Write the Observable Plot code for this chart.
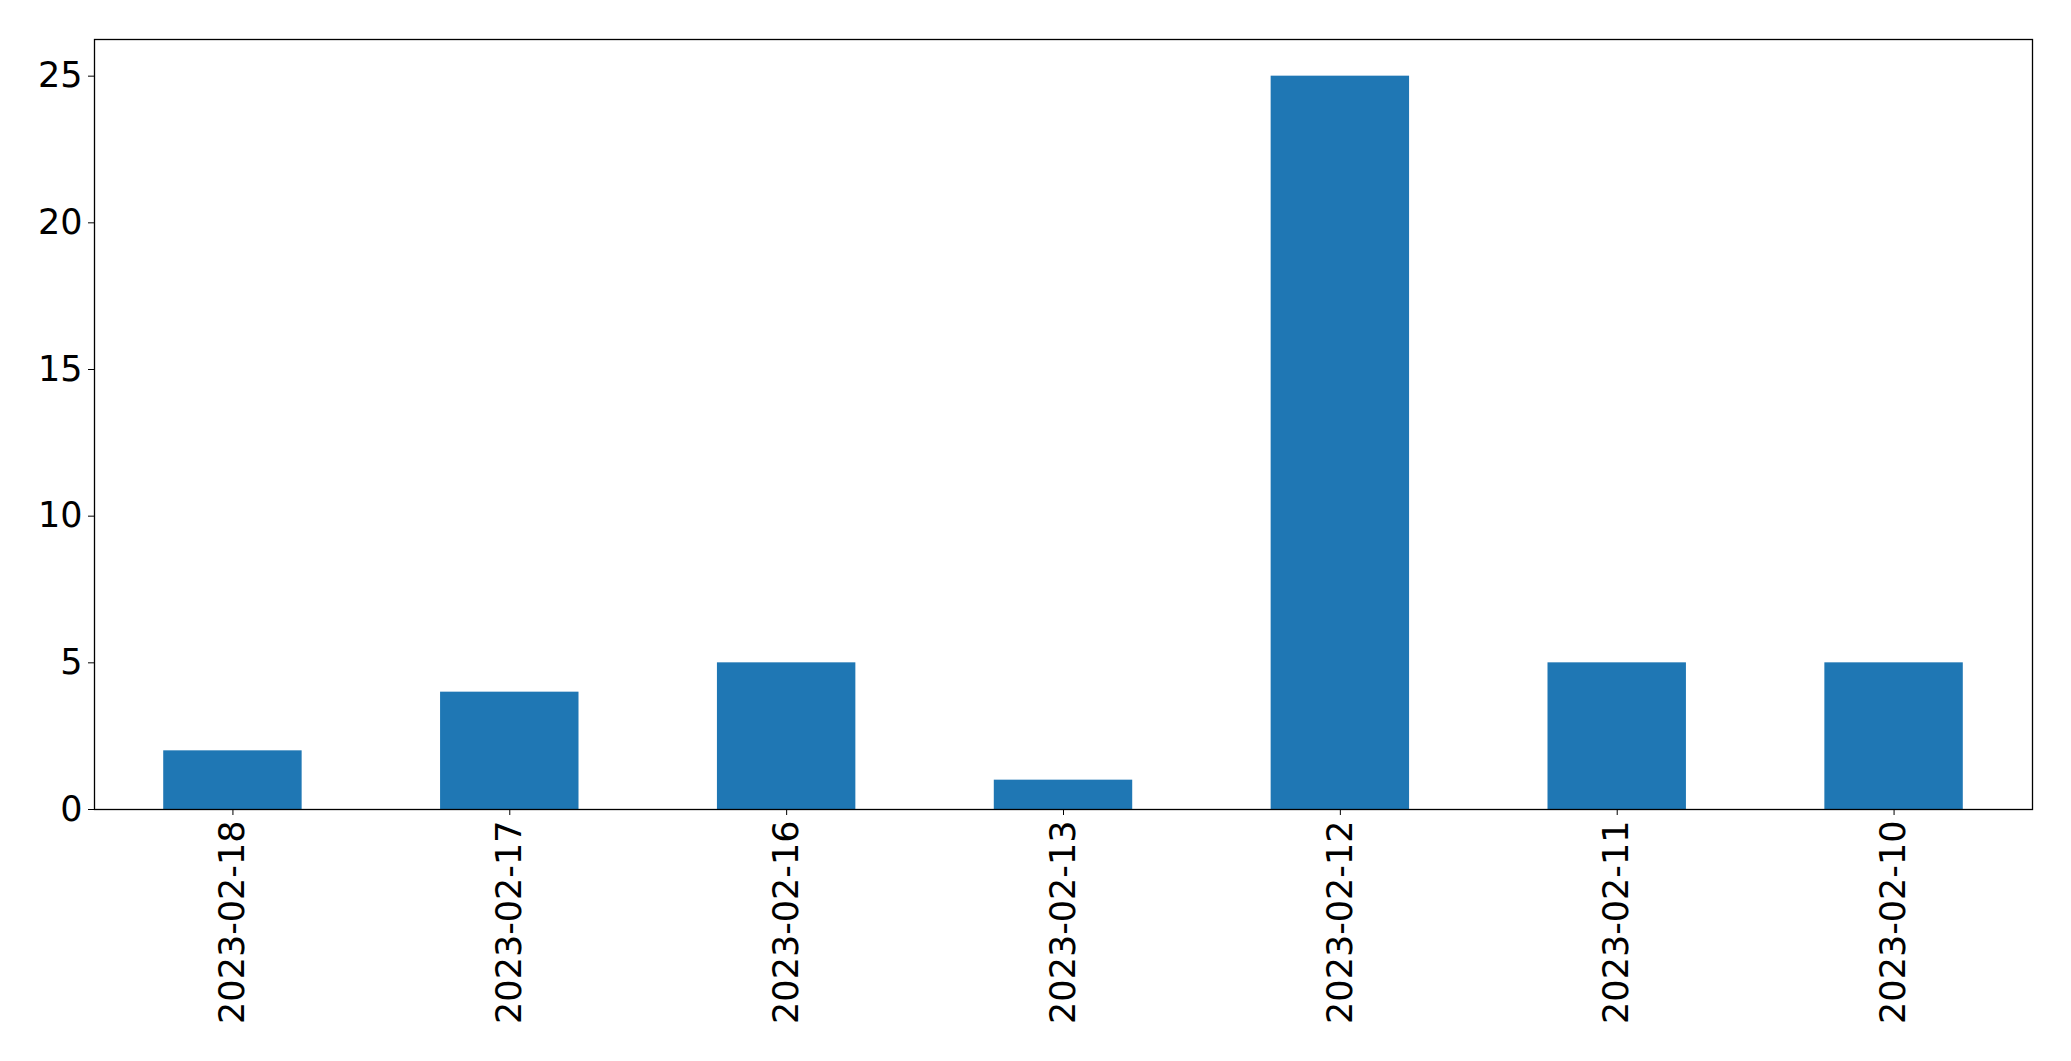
<!DOCTYPE html>
<html>
<head>
<meta charset="utf-8">
<script src="https://cdn.jsdelivr.net/npm/d3@7"></script>
<script src="https://cdn.jsdelivr.net/npm/@observablehq/plot@0.6"></script>
<style>
  html, body { margin: 0; padding: 0; background: #fff; }
</style>
</head>
<body>
<div id="chart"></div>
<script>
const dates = ["2023-02-18", "2023-02-17", "2023-02-16", "2023-02-13", "2023-02-12", "2023-02-11", "2023-02-10"];
const counts = [2, 4, 5, 1, 25, 5, 5];
const yTicks = [0, 5, 10, 15, 20, 25];

const data = dates.map((d, i) => ({date: d, count: counts[i]}));

const chart = Plot.plot({
  width: 2071,
  height: 1061,
  marginLeft: 94,
  marginRight: 39,
  marginTop: 39,
  marginBottom: 252,
  style: {fontFamily: "DejaVu Sans", fontSize: "35px", color: "black", background: "white"},
  x: {domain: dates, paddingInner: 0.5, paddingOuter: 0.25, round: false, label: null},
  y: {domain: [0, 26.25], label: null},
  marks: [
    Plot.barY(data, {x: "date", y: "count", fill: "#1f77b4"}),
    Plot.axisY({ticks: yTicks, tickSize: 6, tickPadding: 6, tickFormat: d => String(d), label: null, fontSize: 35}),
    Plot.axisX({tickSize: 6, tickPadding: 5, tickRotate: -90, label: null, fontSize: 35}),
    Plot.frame({stroke: "black", strokeWidth: 1.3})
  ]
});
document.getElementById("chart").appendChild(chart);
</script>
</body>
</html>
